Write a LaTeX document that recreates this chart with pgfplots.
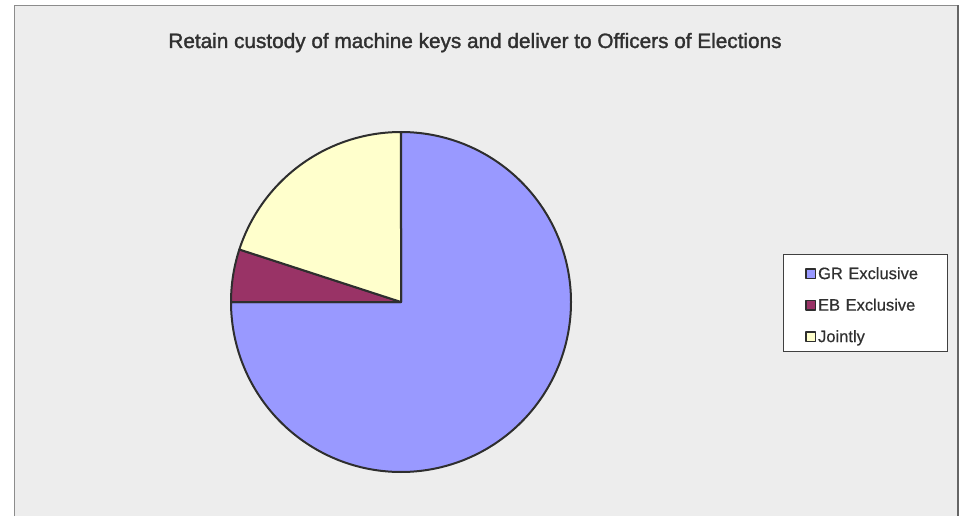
\documentclass[border=0pt]{standalone}
\usepackage{pgfplots}
\pgfplotsset{compat=1.18}
\usepackage{pgfplotstable}
\usepackage{fontspec}
\setmainfont{Liberation Sans}
\definecolor{grc}{HTML}{9999FF}
\definecolor{ebc}{HTML}{993366}
\definecolor{joc}{HTML}{FFFFCC}
\definecolor{bgc}{HTML}{EDEDED}
\definecolor{pieline}{HTML}{2E2E2E}
\definecolor{txt}{HTML}{303030}

\pgfplotstableread{
label value
GR 75
EB 5
Jointly 20
}\piedata

\begin{document}%
\pgfplotstablegetelem{0}{value}\of\piedata\let\va\pgfplotsretval%
\pgfplotstablegetelem{1}{value}\of\piedata\let\vb\pgfplotsretval%
\pgfplotstablegetelem{2}{value}\of\piedata\let\vc\pgfplotsretval%
\pgfmathsetmacro{\tot}{\va+\vb+\vc}%
\pgfmathsetmacro{\aone}{90-(\va/\tot)*360}%
\pgfmathsetmacro{\atwo}{\aone-(\vb/\tot)*360}%
\pgfmathsetmacro{\athree}{\atwo-(\vc/\tot)*360}%
\begin{tikzpicture}
\begin{axis}[
  scale only axis, width=965bp, height=516bp,
  xmin=0, xmax=965, ymin=0, ymax=516,
  hide axis, clip=false,
  legend style={at={(0.81140,0.50775)}, anchor=north west,
    draw=black!75, fill=white, line width=0.8pt,
    font=\fontsize{16.5bp}{19bp}\selectfont\addfontfeature{FakeBold=0.5}\color{txt},
    inner xsep=22bp, inner ysep=3bp, row sep=3.5bp, column sep=2bp,
    cells={anchor=base west},
    nodes={text width=107bp, text height=21.7bp, text depth=6.3bp, inner xsep=0bp, inner ysep=0bp}},
  legend image code/.code={\draw[#1, draw=pieline, line width=1.4pt] (0.7bp,0.7bp) rectangle (10bp,10bp);},
]
% background panel
\fill[white] (axis cs:0,0) rectangle (axis cs:965,516);
\fill[bgc] (axis cs:14,0) rectangle (axis cs:958,510);
\draw[gray!90, line width=1pt] (axis cs:14.5,0) -- (axis cs:14.5,510) -- (axis cs:958,510);
\draw[gray!80!black, line width=2pt] (axis cs:958,510.5) -- (axis cs:958,0);
% title
\node[anchor=base, font=\fontsize{20.75bp}{24bp}\selectfont\addfontfeature{FakeBold=1.5}, text=txt] at (axis cs:475,468) {Retain custody of machine keys and deliver to Officers of Elections};
% pie slices
\addplot[fill=grc, draw=pieline, line width=2bp, line join=round, domain=\aone:90, samples=181]
  ({401+170*cos(x)},{214+170*sin(x)}) -- (axis cs:401,214) -- cycle;
\addlegendentry{GR Exclusive}
\addplot[fill=ebc, draw=pieline, line width=2bp, line join=round, domain=\atwo:\aone, samples=20]
  ({401+170*cos(x)},{214+170*sin(x)}) -- (axis cs:401,214) -- cycle;
\addlegendentry{EB Exclusive}
\addplot[fill=joc, draw=pieline, line width=2bp, line join=round, domain=\athree:\atwo, samples=60]
  ({401+170*cos(x)},{214+170*sin(x)}) -- (axis cs:401,214) -- cycle;
\addlegendentry{Jointly}
\end{axis}
\end{tikzpicture}%
\end{document}
